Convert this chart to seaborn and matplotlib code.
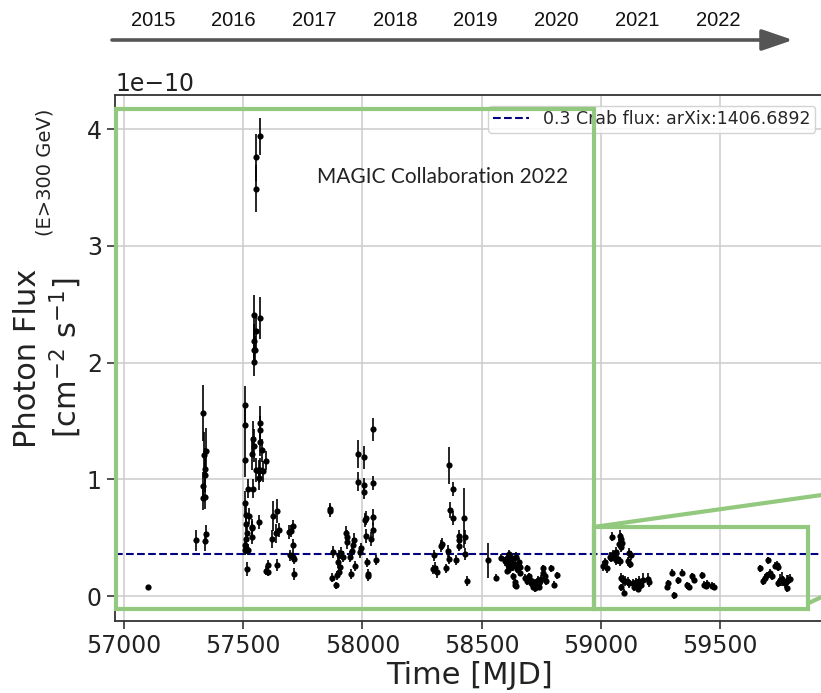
import matplotlib
matplotlib.use("Agg")
import matplotlib.pyplot as plt
from matplotlib.patches import Rectangle, FancyArrowPatch
import numpy as np
import seaborn as sns

# ---- light curve (flux in units of 1e-10 cm^-2 s^-1) ----
mjd_2014 = [57099]
flux_2014 = [0.08]
err_2014 = [0.02]

mjd_2015 = [57301, 57333, 57334, 57343, 57340, 57338, 57332, 57331, 57338, 57342, 57340]
flux_2015 = [0.48, 1.57, 1.21, 1.24, 1.09, 1.04, 0.94, 0.84, 0.85, 0.53, 0.47]
err_2015 = [0.09, 0.24, 0.20, 0.20, 0.18, 0.15, 0.12, 0.10, 0.10, 0.08, 0.08]

mjd_2016 = [57508, 57508, 57508, 57508, 57512, 57521, 57540, 57540, 57543, 57536,
            57570, 57572, 57570, 57577, 57555, 57565, 57570, 57582, 57568, 57596,
            57568, 57524, 57535, 57538, 57535, 57512, 57516, 57512, 57508, 57512,
            57519, 57508, 57515,
            57570, 57552, 57552, 57547, 57570, 57552, 57547, 57545, 57549, 57547,
            57624, 57640, 57621, 57636, 57650, 57596, 57605, 57605, 57640,
            57693, 57700, 57707, 57707, 57710, 57713, 57695, 57712]
flux_2016 = [1.64, 1.47, 1.17, 0.80, 0.70, 0.92, 0.92, 1.35, 1.29, 1.22,
             1.48, 1.42, 1.32, 1.25, 1.08, 1.07, 1.08, 1.07, 1.01, 1.16,
             0.64, 0.69, 0.59, 0.585, 0.51, 0.62, 0.54, 0.49, 0.44, 0.41,
             0.40, 0.40, 0.23,
             3.94, 3.76, 3.49, 2.41, 2.38, 2.27, 2.19, 2.11, 2.11, 2.01,
             0.685, 0.73, 0.49, 0.54, 0.57, 0.22, 0.21, 0.27, 0.265,
             0.55, 0.56, 0.60, 0.44, 0.34, 0.19, 0.35, 0.32]
err_2016 = [0.16, 0.15, 0.15, 0.10, 0.08, 0.08, 0.08, 0.15, 0.14, 0.14,
            0.15, 0.12, 0.12, 0.10, 0.10, 0.10, 0.10, 0.09, 0.10, 0.08,
            0.06, 0.07, 0.07, 0.06, 0.06, 0.06, 0.06, 0.06, 0.05, 0.05,
            0.05, 0.05, 0.06,
            0.16, 0.20, 0.20, 0.17, 0.18, 0.15, 0.14, 0.13, 0.12, 0.12,
            0.13, 0.10, 0.08, 0.08, 0.06, 0.04, 0.04, 0.04, 0.05,
            0.06, 0.05, 0.05, 0.05, 0.05, 0.05, 0.05, 0.04]

mjd_2017 = [57864, 57866, 57878, 57871, 57889, 57893, 57900, 57905, 57897, 57903,
            57918, 57910, 57932, 57935, 57937, 57947, 57950, 57955, 57961, 57966,
            57969, 57980, 57983, 57990, 57994, 58007, 58007, 58007, 58011, 58013,
            58016, 58021, 58024, 58022, 58037, 58043, 58045, 58046, 58045, 58056]
flux_2017 = [0.75, 0.73, 0.38, 0.16, 0.094, 0.18, 0.21, 0.25, 0.29, 0.35,
             0.34, 0.37, 0.54, 0.51, 0.465, 0.34, 0.19, 0.39, 0.44, 0.48,
             0.26, 1.22, 0.98, 0.38, 0.41, 1.19, 0.95, 0.89, 0.65, 0.67,
             0.52, 0.29, 0.19, 0.17, 0.49, 1.43, 0.97, 0.68, 0.57, 0.31]
err_2017 = [0.05, 0.05, 0.05, 0.04, 0.03, 0.04, 0.04, 0.05, 0.05, 0.05,
            0.05, 0.05, 0.06, 0.06, 0.06, 0.05, 0.04, 0.05, 0.06, 0.06,
            0.04, 0.12, 0.08, 0.05, 0.05, 0.10, 0.06, 0.06, 0.06, 0.06,
            0.06, 0.04, 0.04, 0.04, 0.06, 0.10, 0.06, 0.07, 0.06, 0.04]

mjd_2018 = [58300, 58304, 58314, 58297, 58330, 58334, 58350, 58361, 58362, 58365,
            58379, 58367, 58381, 58391, 58405, 58407, 58404, 58428, 58430, 58431,
            58437]
flux_2018 = [0.35, 0.24, 0.21, 0.23, 0.43, 0.445, 0.24, 0.39, 0.32, 1.12,
             0.92, 0.74, 0.67, 0.31, 0.52, 0.48, 0.43, 0.67, 0.51, 0.36,
             0.13]
err_2018 = [0.05, 0.05, 0.05, 0.04, 0.05, 0.05, 0.04, 0.05, 0.04, 0.16,
            0.06, 0.07, 0.06, 0.04, 0.05, 0.05, 0.04, 0.26, 0.06, 0.05,
            0.04]

mjd_2019 = [58528, 58560, 58580, 58600, 58608, 58612, 58615, 58620, 58624, 58618,
            58628, 58632, 58605, 58640, 58645, 58650, 58655, 58660, 58662, 58632,
            58640, 58645, 58638, 58692, 58682, 58690, 58700, 58707, 58714, 58721,
            58728, 58735, 58742, 58742, 58749, 58756, 58759, 58766, 58770, 58790,
            58805, 58815, 58700, 58710, 58725, 58735, 58745]
flux_2019 = [0.31, 0.16, 0.33, 0.30, 0.33, 0.27, 0.36, 0.31, 0.29, 0.24,
             0.33, 0.26, 0.22, 0.28, 0.34, 0.23, 0.29, 0.20, 0.25, 0.17,
             0.12, 0.09, 0.10, 0.24, 0.16, 0.13, 0.14, 0.11, 0.08, 0.10,
             0.12, 0.14, 0.11, 0.08, 0.15, 0.24, 0.20, 0.17, 0.13, 0.24,
             0.10, 0.18, 0.17, 0.13, 0.07, 0.09, 0.13]
err_2019 = [0.15, 0.03, 0.03, 0.04, 0.04, 0.04, 0.04, 0.04, 0.04, 0.04,
            0.04, 0.04, 0.03, 0.04, 0.04, 0.03, 0.04, 0.03, 0.03, 0.03,
            0.03, 0.03, 0.03, 0.03, 0.03, 0.03, 0.03, 0.03, 0.03, 0.03,
            0.03, 0.03, 0.03, 0.03, 0.03, 0.03, 0.03, 0.03, 0.03, 0.03,
            0.03, 0.03, 0.03, 0.03, 0.03, 0.03, 0.03]

mjd_2020 = [59046, 59080, 59085, 59090, 59078, 59083, 59063, 59050, 59038, 59056,
            59044, 59017, 59010, 59024, 59063, 59073, 59080, 59120, 59127, 59115,
            59121, 59085, 59092, 59103, 59113, 59120, 59134, 59148, 59162, 59169,
            59176, 59197, 59201, 59085, 59099, 59141, 59155, 59162]
flux_2020 = [0.51, 0.52, 0.49, 0.46, 0.45, 0.42, 0.38, 0.36, 0.34, 0.345,
             0.33, 0.29, 0.26, 0.24, 0.31, 0.315, 0.30, 0.37, 0.35, 0.30,
             0.28, 0.16, 0.14, 0.13, 0.125, 0.11, 0.11, 0.12, 0.13, 0.10,
             0.14, 0.15, 0.12, 0.075, 0.03, 0.075, 0.065, 0.085]
err_2020 = [0.04, 0.05, 0.05, 0.04, 0.04, 0.04, 0.04, 0.04, 0.04, 0.04,
            0.04, 0.04, 0.04, 0.04, 0.04, 0.04, 0.04, 0.04, 0.04, 0.04,
            0.04, 0.04, 0.04, 0.04, 0.04, 0.04, 0.04, 0.04, 0.04, 0.04,
            0.06, 0.05, 0.04, 0.03, 0.03, 0.03, 0.03, 0.03]

mjd_2021 = [59282, 59276, 59300, 59307, 59324, 59342, 59363, 59370, 59384, 59391,
            59426, 59433, 59440, 59447, 59468, 59475]
flux_2021 = [0.11, 0.08, 0.20, 0.01, 0.135, 0.20, 0.095, 0.08, 0.17, 0.14,
             0.18, 0.10, 0.09, 0.105, 0.09, 0.08]
err_2021 = [0.03, 0.03, 0.03, 0.03, 0.03, 0.03, 0.03, 0.03, 0.03, 0.03,
            0.03, 0.03, 0.03, 0.03, 0.03, 0.03]

mjd_2022 = [59667, 59681, 59688, 59695, 59702, 59709, 59716, 59730, 59737, 59744,
            59751, 59758, 59765, 59772, 59779, 59786, 59793, 59744, 59779]
flux_2022 = [0.24, 0.13, 0.16, 0.18, 0.31, 0.20, 0.17, 0.26, 0.27, 0.25,
             0.14, 0.15, 0.13, 0.11, 0.13, 0.14, 0.15, 0.11, 0.07]
err_2022 = [0.03, 0.03, 0.03, 0.03, 0.03, 0.03, 0.03, 0.03, 0.03, 0.03,
            0.05, 0.06, 0.04, 0.04, 0.05, 0.04, 0.04, 0.03, 0.03]

crab_level = 0.365          # 0.3 Crab above 300 GeV
years = ["2015", "2016", "2017", "2018", "2019", "2020", "2021", "2022"]
xticks = [57000, 57500, 58000, 58500, 59000, 59500]
yticks = [0, 1, 2, 3, 4]

# zoom boxes (MJD range, flux range)
box_full = (56965, 58972, -0.105, 4.17)
box_recent = (58972, 59870, -0.105, 0.594)

mjd = np.concatenate([mjd_2014, mjd_2015, mjd_2016, mjd_2017, mjd_2018,
                      mjd_2019, mjd_2020, mjd_2021, mjd_2022])
flux = np.concatenate([flux_2014, flux_2015, flux_2016, flux_2017, flux_2018,
                       flux_2019, flux_2020, flux_2021, flux_2022]) * 1e-10
flux_err = np.concatenate([err_2014, err_2015, err_2016, err_2017, err_2018,
                           err_2019, err_2020, err_2021, err_2022]) * 1e-10

# ---- style ----
sns.set_style("ticks", {"axes.grid": True, "grid.color": "#cccccc",
                        "axes.edgecolor": "#333333"})
plt.rcParams["font.family"] = ["DejaVu Sans"]

green = "#93c97f"
W, H = 821, 693
fig = plt.figure(figsize=(W / 100, H / 100), dpi=100)
ax = fig.add_axes([115 / W, 1 - 621 / H, 708 / W, 526 / H])

ax.errorbar(mjd, flux, yerr=flux_err, fmt="none", ecolor="black",
            elinewidth=1.2, capsize=0, zorder=3)
sns.scatterplot(x=mjd, y=flux, color="black", s=20, linewidth=0, ax=ax, zorder=4)

crab = ax.axhline(crab_level * 1e-10, color="navy", ls="--", lw=1.5, zorder=2,
                  label="0.3 Crab flux: arXix:1406.6892")

ax.set_xlim(56962, 59932)
ax.set_ylim(-0.212e-10, 4.293e-10)
ax.set_xticks(xticks)
ax.set_yticks([v * 1e-10 for v in yticks])
ax.ticklabel_format(axis="y", style="sci", scilimits=(0, 0))
ax.tick_params(axis="both", labelsize=17, length=6, width=1.2, color="#333333",
               labelcolor="#222222", direction="out")
ax.yaxis.get_offset_text().set_fontsize(17)
ax.grid(True, color="#cccccc", lw=1.1)
for s in ax.spines.values():
    s.set_linewidth(1.3)
    s.set_color("#333333")

ax.set_xlabel("Time [MJD]", fontsize=22, color="#222222", labelpad=2)
ax.set_ylabel("Photon Flux\n[cm$^{-2}$ s$^{-1}$]", fontsize=22, color="#222222",
              linespacing=1.2, labelpad=2)
fig.text(45 / W, 1 - 172 / H, "(E>300 GeV)", rotation=90, fontsize=14,
         ha="center", va="center", color="#222222")

leg = ax.legend(handles=[crab], loc="upper right", fontsize=12.5,
                bbox_to_anchor=(815 / W, 1 - 106 / H), bbox_transform=fig.transFigure,
                borderaxespad=0, handlelength=2.1, borderpad=0.25, framealpha=0.85)

for (x0, x1, y0, y1) in (box_full, box_recent):
    ax.add_patch(Rectangle((x0, y0 * 1e-10), x1 - x0, (y1 - y0) * 1e-10,
                           fill=False, edgecolor=green, lw=3, zorder=6,
                           clip_on=False))
# connectors towards the magnified view
ax.plot([box_recent[0], 60255], [box_recent[3] * 1e-10, 0.961e-10],
        color=green, lw=3, zorder=6, clip_on=False)
ax.plot([box_recent[1], 60255], [-0.06e-10, 0.305e-10],
        color=green, lw=3, zorder=6, clip_on=False)

ax.text(0.463, 0.844, "MAGIC Collaboration 2022", transform=ax.transAxes,
        fontsize=15, family="Lato", ha="center", va="center", color="#222222")

# calendar-year arrow along the top
for i, yr in enumerate(years):
    fig.text((153 + 80.7 * i) / W, 1 - 20 / H, yr, fontsize=14.5,
             family="Liberation Sans", ha="center", va="center", color="#111111")
fig.add_artist(FancyArrowPatch((112 / W, 1 - 40 / H), (793 / W, 1 - 40 / H),
                               transform=fig.transFigure,
                               arrowstyle="-|>,head_length=19,head_width=6.5",
                               lw=2.6, color="#555555", shrinkA=0, shrinkB=0))

fig.savefig("out.png", dpi=100)
